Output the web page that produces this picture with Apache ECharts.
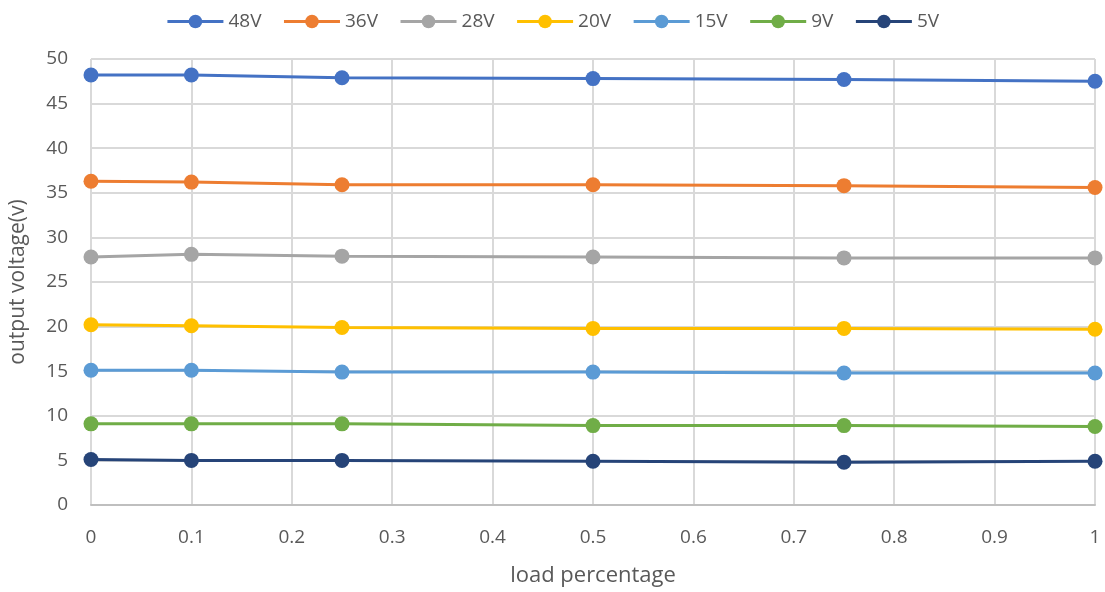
<!DOCTYPE html>
<html><head><meta charset="utf-8">
<script src="https://cdn.jsdelivr.net/npm/echarts@6/dist/echarts.min.js"></script>
<style>html,body{margin:0;padding:0;background:#fff}#c{width:1105px;height:592px}</style>
</head><body><div id="c"></div>
<script>
const loads = [0, 0.1, 0.25, 0.5, 0.75, 1];
const seriesNames = ['48V','36V','28V','20V','15V','9V','5V'];
const v48 = [48.2, 48.2, 47.9, 47.8, 47.7, 47.5];
const v36 = [36.3, 36.2, 35.9, 35.9, 35.8, 35.6];
const v28 = [27.8, 28.1, 27.9, 27.8, 27.7, 27.7];
const v20 = [20.2, 20.1, 19.9, 19.8, 19.8, 19.7];
const v15 = [15.1, 15.1, 14.9, 14.9, 14.8, 14.8];
const v9  = [9.1, 9.1, 9.1, 8.9, 8.9, 8.8];
const v5  = [5.1, 5.0, 5.0, 4.9, 4.8, 4.9];
const allValues = [v48, v36, v28, v20, v15, v9, v5];
const colors = ['#4472C4','#ED7D31','#A5A5A5','#FFC000','#5B9BD5','#70AD47','#264478'];
const font = "'Open Sans', 'Noto Sans', sans-serif";
const chart = echarts.init(document.getElementById('c'), null, {renderer:'canvas'});
chart.setOption({
  animation: false,
  color: colors,
  legend: {
    top: 7, left: 'center',
    itemWidth: 56, itemHeight: 17, itemGap: 21,
    lineStyle: {width: 3},
    textStyle: {color:'#595959', fontSize: 19, fontFamily: font},
    data: seriesNames
  },
  grid: {left: 89, right: 10, top: 59, bottom: 87},
  xAxis: {
    type: 'value', min: 0, max: 1, interval: 0.1,
    name: 'load percentage', nameLocation: 'middle', nameGap: 60,
    nameTextStyle: {color:'#595959', fontSize: 22, fontFamily: font},
    axisLine: {show: true, lineStyle: {color:'#BFBFBF', width: 2}},
    axisTick: {show: false},
    axisLabel: {color:'#595959', fontSize: 19, fontFamily: font, margin: 23,
      formatter: v => String(Math.round(v*10)/10)},
    splitLine: {show: true, lineStyle: {color:'#D9D9D9', width: 2}}
  },
  yAxis: {
    type: 'value', min: 0, max: 50, interval: 5,
    name: 'output voltage(v)', nameLocation: 'middle', nameGap: 62,
    nameTextStyle: {color:'#595959', fontSize: 21, fontFamily: font},
    axisLine: {show: false},
    axisTick: {show: false},
    axisLabel: {color:'#595959', fontSize: 19, fontFamily: font, margin: 23},
    splitLine: {show: true, lineStyle: {color:'#D9D9D9', width: 2}}
  },
  series: seriesNames.map((n, i) => ({
    name: n, type: 'line',
    data: loads.map((x, j) => [x, allValues[i][j]]),
    symbol: 'circle', symbolSize: 15,
    lineStyle: {width: 3, color: colors[i]},
    itemStyle: {color: colors[i]},
    z: 10 - i
  }))
});
</script></body></html>
